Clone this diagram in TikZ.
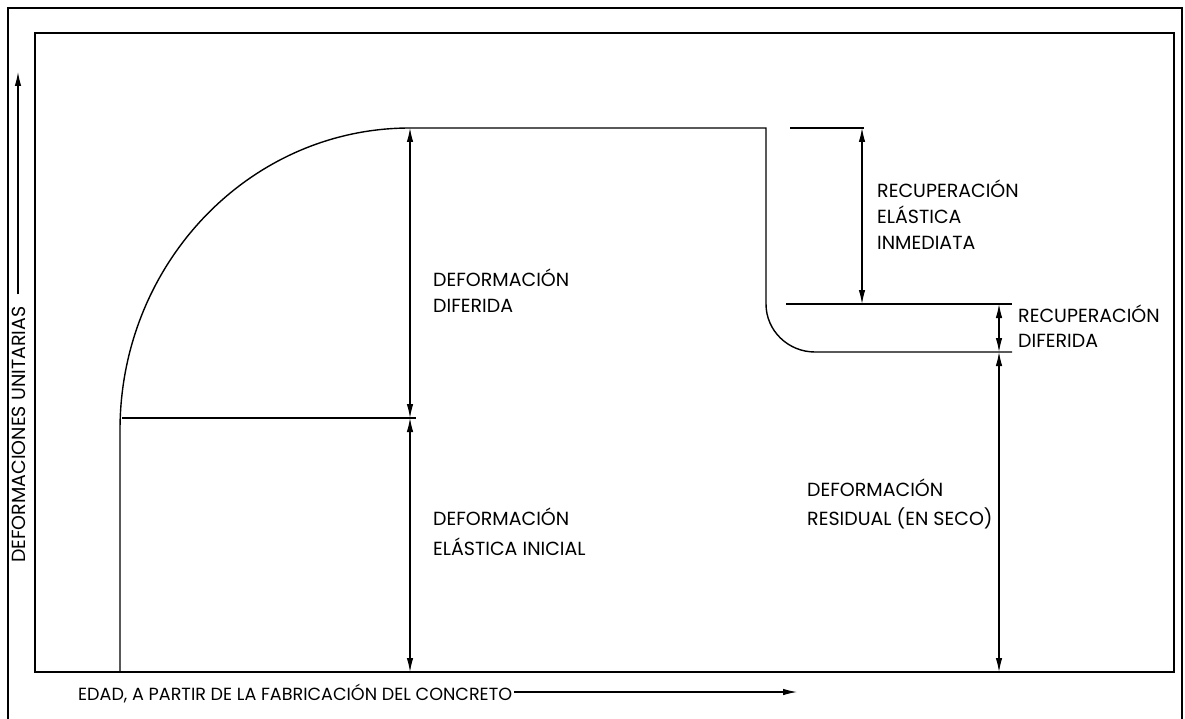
\documentclass[tikz,border=0pt]{standalone}
\usepackage{fontspec}
\setmainfont{Poppins}
\usetikzlibrary{arrows.meta}
\tikzset{
  frameout/.style={line width=2.4pt, line cap=rect},
  framein/.style={line width=1.4pt},
  curve/.style={line width=1.4pt},
  guide/.style={line width=1.1pt},
  dim/.style={line width=1.1pt, {Latex[length=14pt,width=6.5pt]}-{Latex[length=14pt,width=6.5pt]}},
  axarrow/.style={line width=1.1pt, -{Latex[length=14pt,width=6.5pt]}},
  lbl/.style={anchor=base west, inner sep=0pt, font=\fontsize{19}{25}\selectfont, align=left}
}
\begin{document}
\begin{tikzpicture}[x=1pt,y=-1pt]
\useasboundingbox (0,0) rectangle (1185,719);
% frames
\draw[frameout] (8,725) -- (8,8) -- (1182,8) -- (1182,725);
\draw[framein] (35,33) rectangle (1174,672);
% named points
\coordinate (base1) at (120,672);
\coordinate (a0) at (120,430);
\coordinate (top1) at (410,128);
\coordinate (top2) at (766,128);
\coordinate (b0) at (766,304);
\coordinate (b1) at (815,352);
\coordinate (res2) at (1012,352);
\coordinate (rec1) at (786,304);
\coordinate (rec2) at (1012,304);
\coordinate (tp1) at (790,128);
\coordinate (tp2) at (864,128);
\coordinate (el1) at (122,418);
\coordinate (el2) at (416,418);
% curve
\draw[curve] (base1) -- (a0) .. controls (120,263.2) and (249.8,128) .. (top1) -- (top2) -- (b0)
  .. controls (766,330.5) and (787.9,352) .. (b1) -- (res2);
\draw[guide] (rec1) -- (rec2);
\draw[guide] (tp1) -- (tp2);
\draw[guide] (el1) -- (el2);
% dimension lines
\coordinate (d1a) at (410,128);
\coordinate (d1b) at (410,418);
\coordinate (d1c) at (410,672);
\draw[dim] (d1a) -- (d1b);
\draw[dim] (d1b) -- (d1c);
\coordinate (d2a) at (862,128);
\coordinate (d2b) at (862,304);
\draw[dim] (d2a) -- (d2b);
\coordinate (d3a) at (999,304);
\coordinate (d3b) at (999,352);
\coordinate (d3c) at (999,672);
\draw[dim] (d3a) -- (d3b);
\draw[dim] (d3b) -- (d3c);
% labels (anchored at the baseline of the last line)
\node[lbl] (ldif) at (433,312) {DEFORMACIÓN\\DIFERIDA};
\node[lbl, font=\fontsize{19}{30}\selectfont] (lini) at (433,555) {DEFORMACIÓN\\ELÁSTICA INICIAL};
\node[lbl, font=\fontsize{19}{26}\selectfont] (lrei) at (877,250) {RECUPERACIÓN\\ELÁSTICA\\INMEDIATA};
\node[lbl] (lred) at (1018,347) {RECUPERACIÓN\\DIFERIDA};
\node[lbl, font=\fontsize{19}{29}\selectfont] (lres) at (807,525) {DEFORMACIÓN\\RESIDUAL (EN SECO)};
% axes labels
\node[lbl, font=\fontsize{17.6}{22}\selectfont] (xlab) at (78,700) {EDAD, A PARTIR DE LA FABRICACIÓN DEL CONCRETO};
\coordinate (xtip) at (797,692);
\draw[axarrow] (xlab.east |- xtip) ++(2,0) -- (xtip);
\node[lbl, rotate=90] (ylab) at (25,563) {DEFORMACIONES UNITARIAS};
\coordinate (ytip) at (18,72);
\draw[axarrow] (ylab.east -| ytip) ++(0,-12) -- (ytip);
\end{tikzpicture}
\end{document}
